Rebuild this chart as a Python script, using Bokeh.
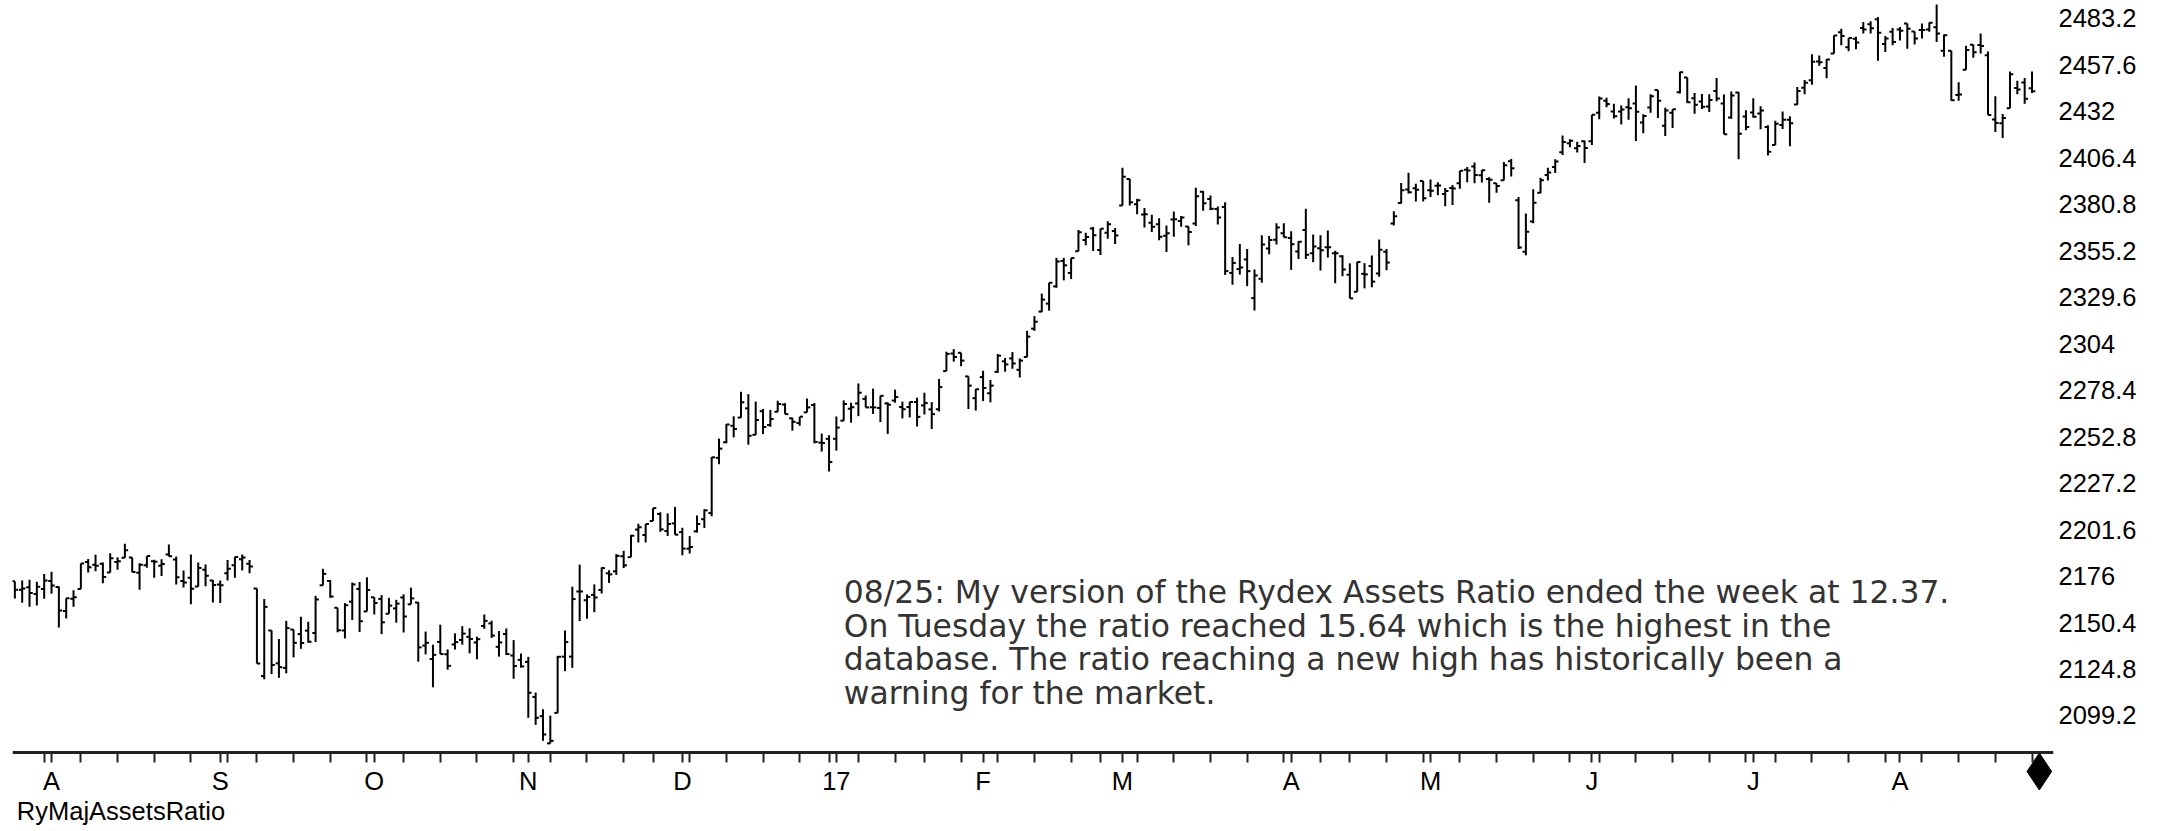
import numpy as np
import pandas as pd
from bokeh.plotting import figure
from bokeh.models import Range1d, FixedTicker, Label, ColumnDataSource
from bokeh.embed import file_html
from bokeh.resources import INLINE

# ---- trading calendar (S&P 500, daily bars) ----
holidays = ["2016-09-05", "2016-11-24", "2016-12-26", "2017-01-02", "2017-01-16",
            "2017-02-20", "2017-04-14", "2017-05-29", "2017-07-04"]
dates = pd.bdate_range("2016-07-25", "2017-08-25")
dates = dates[~dates.isin(pd.to_datetime(holidays))]

month_labels = ["A", "S", "O", "N", "D", "17", "F", "M", "A", "M", "J", "J", "A"]

y_ticks = [2099.2, 2124.8, 2150.4, 2176.0, 2201.6, 2227.2, 2252.8, 2278.4,
           2304.0, 2329.6, 2355.2, 2380.8, 2406.4, 2432.0, 2457.6, 2483.2]
y_tick_labels = ["2099.2", "2124.8", "2150.4", "2176", "2201.6", "2227.2", "2252.8", "2278.4",
                 "2304", "2329.6", "2355.2", "2380.8", "2406.4", "2432", "2457.6", "2483.2"]

opens = [
    2173.1, 2168.5, 2169.8, 2166.1, 2168.8,
    2173.2, 2169.9, 2156.8, 2163.5, 2168.8, 2183.8, 2182.2, 2182.8, 2177.9, 2183.7, 2186.1, 2186.2, 2177.8, 2181.9, 2184.2, 2181.6, 2187.8, 2185.1, 2173.3, 2175.1, 2170.2, 2179.5, 2173.6,
    2171.3, 2177.5, 2181.9, 2185.2, 2182.8, 2169.1, 2120.9, 2146.0, 2127.9, 2125.4, 2146.5, 2144.0, 2145.9, 2144.6, 2170.9, 2173.3, 2158.5, 2146.0, 2161.9, 2168.9, 2156.5,
    2164.3, 2163.4, 2155.2, 2158.2, 2164.2, 2160.4, 2161.4, 2137.7, 2130.3, 2139.7, 2132.9, 2138.3, 2140.8, 2142.5, 2139.4, 2148.5, 2149.9, 2137.0, 2144.1, 2132.2, 2129.8,
    2128.7, 2109.4, 2098.8, 2083.8, 2100.6, 2131.6, 2131.6, 2167.5, 2162.7, 2165.6, 2168.3, 2177.5, 2178.6, 2186.9, 2186.4, 2201.6, 2198.6, 2206.3, 2210.2, 2200.8, 2205.0,
    2200.2, 2191.1, 2200.6, 2207.3, 2210.7, 2241.1, 2249.7, 2258.8, 2263.3, 2268.4, 2253.8, 2266.8, 2259.2, 2266.5, 2270.5, 2262.9, 2260.3, 2266.2, 2270.2, 2249.5, 2251.6,
    2251.6, 2261.6, 2268.2, 2271.1, 2273.6, 2269.0, 2268.6, 2271.1, 2272.7, 2269.1, 2269.1, 2271.9, 2270.0, 2267.8, 2267.9, 2288.9, 2298.6, 2299.0, 2286.0, 2274.0,
    2285.6, 2276.7, 2288.5, 2294.3, 2295.9, 2289.6, 2296.7, 2312.3, 2321.7, 2326.1, 2335.6, 2349.6, 2343.0, 2354.9, 2361.1, 2367.5, 2355.7, 2365.2, 2366.1,
    2380.1, 2394.8, 2380.9, 2375.2, 2370.7, 2369.8, 2363.5, 2372.5, 2371.6, 2368.6, 2370.3, 2387.7, 2383.7, 2378.2, 2379.3, 2343.0, 2345.1, 2350.4, 2329.1, 2339.8, 2356.5, 2361.3, 2364.8,
    2362.3, 2354.8, 2366.6, 2353.8, 2356.6, 2357.2, 2353.9, 2352.2, 2342.0, 2332.6, 2342.5, 2346.8, 2342.7, 2354.7, 2370.3, 2381.5, 2389.0, 2389.7, 2393.7,
    2388.5, 2391.1, 2386.5, 2389.8, 2392.4, 2399.9, 2401.6, 2396.8, 2394.8, 2392.4, 2394.0, 2404.6, 2383.0, 2354.7, 2371.4, 2387.2, 2397.0, 2401.4, 2409.5, 2414.5, 2411.7, 2415.6,
    2415.6, 2431.3, 2437.8, 2431.9, 2432.0, 2434.3, 2436.4, 2425.9, 2434.2, 2443.8, 2424.1, 2431.2, 2442.5, 2450.7, 2439.3, 2437.4, 2434.7, 2443.3, 2436.3, 2428.7, 2442.4, 2429.2,
    2431.4, 2430.8, 2423.4, 2413.5, 2424.5, 2427.4, 2435.8, 2445.0, 2449.2, 2459.5, 2455.9, 2463.9, 2475.6, 2467.4, 2472.0, 2477.9, 2480.0, 2482.8, 2469.1, 2475.9,
    2477.1, 2480.4, 2476.0, 2476.9, 2477.1, 2478.3, 2465.4, 2465.4, 2441.0, 2455.0, 2468.7, 2468.6, 2463.0, 2427.6, 2425.5, 2433.8, 2444.9, 2447.9, 2444.7,
]

highs = [
    2173.1, 2173.5, 2174.0, 2172.9, 2177.1,
    2178.3, 2170.2, 2163.8, 2168.2, 2182.9, 2185.4, 2187.7, 2183.4, 2188.5, 2186.3, 2193.8, 2186.2, 2183.1, 2187.0, 2185.0, 2185.2, 2193.4, 2186.7, 2179.0, 2187.9, 2183.5, 2182.3, 2173.8,
    2173.6, 2184.9, 2186.6, 2187.9, 2184.9, 2169.1, 2163.3, 2146.0, 2141.3, 2151.3, 2146.5, 2153.6, 2150.8, 2165.1, 2180.0, 2173.8, 2158.5, 2161.1, 2172.4, 2172.7, 2175.3,
    2164.4, 2165.5, 2164.0, 2162.9, 2165.9, 2169.6, 2161.6, 2145.4, 2138.2, 2149.2, 2135.6, 2144.4, 2148.4, 2147.2, 2142.6, 2154.8, 2151.4, 2145.7, 2147.1, 2140.7, 2133.3,
    2131.5, 2111.8, 2102.6, 2099.1, 2132.0, 2146.0, 2170.1, 2182.3, 2165.9, 2171.4, 2180.8, 2179.2, 2188.1, 2189.9, 2198.7, 2204.8, 2204.7, 2213.4, 2211.1, 2210.5, 2214.1,
    2202.6, 2198.0, 2209.4, 2212.8, 2241.6, 2251.7, 2259.8, 2264.0, 2277.5, 2276.2, 2272.1, 2268.1, 2267.5, 2272.6, 2271.2, 2263.2, 2263.8, 2273.8, 2271.3, 2254.5, 2253.6,
    2263.9, 2272.8, 2271.5, 2282.1, 2275.5, 2279.3, 2275.3, 2271.8, 2278.7, 2272.1, 2272.0, 2274.3, 2277.0, 2271.8, 2284.6, 2299.6, 2301.0, 2299.0, 2286.0, 2279.1,
    2289.1, 2284.0, 2298.3, 2296.2, 2299.4, 2295.9, 2311.1, 2319.2, 2331.6, 2337.6, 2351.3, 2351.3, 2351.2, 2366.7, 2365.1, 2368.3, 2367.3, 2371.5, 2367.8,
    2401.0, 2394.8, 2383.9, 2378.8, 2375.1, 2373.1, 2369.1, 2376.9, 2374.4, 2368.6, 2390.0, 2388.1, 2385.7, 2379.6, 2381.9, 2351.8, 2358.9, 2356.2, 2344.9, 2363.8, 2363.4, 2370.4, 2370.4,
    2365.9, 2360.5, 2378.4, 2364.2, 2363.8, 2366.4, 2355.2, 2352.7, 2348.3, 2349.1, 2348.4, 2352.6, 2361.4, 2356.2, 2377.0, 2392.5, 2398.2, 2392.1, 2393.7,
    2394.5, 2392.9, 2389.8, 2391.4, 2399.3, 2401.4, 2403.9, 2399.7, 2395.7, 2392.4, 2404.1, 2405.8, 2384.9, 2375.7, 2389.1, 2395.5, 2400.9, 2405.6, 2418.7, 2416.7, 2415.3, 2416.0,
    2430.1, 2440.2, 2439.5, 2436.2, 2435.3, 2439.3, 2446.2, 2430.4, 2441.5, 2443.8, 2434.0, 2433.2, 2453.8, 2450.7, 2442.2, 2441.6, 2441.4, 2450.4, 2441.3, 2443.0, 2442.7, 2432.7,
    2439.2, 2434.9, 2424.3, 2426.9, 2432.0, 2429.3, 2445.4, 2449.3, 2463.5, 2462.8, 2460.9, 2473.8, 2477.6, 2472.5, 2473.1, 2481.2, 2481.7, 2484.0, 2473.5, 2478.0,
    2478.5, 2480.4, 2476.0, 2480.4, 2481.0, 2490.9, 2474.4, 2465.4, 2448.1, 2468.2, 2468.9, 2474.9, 2465.0, 2440.3, 2430.6, 2454.0, 2448.9, 2450.4, 2454.0,
]

lows = [
    2163.6, 2161.3, 2159.1, 2159.7, 2163.5,
    2166.2, 2147.6, 2152.6, 2159.1, 2168.8, 2177.9, 2178.6, 2172.0, 2177.9, 2179.4, 2186.1, 2178.1, 2168.5, 2180.5, 2175.1, 2176.0, 2186.8, 2171.3, 2169.7, 2160.4, 2170.2, 2170.4, 2161.4,
    2161.1, 2173.6, 2175.1, 2179.1, 2177.5, 2127.8, 2119.1, 2122.0, 2119.9, 2122.4, 2131.2, 2135.9, 2139.2, 2139.6, 2170.9, 2164.0, 2145.0, 2141.6, 2151.8, 2145.2, 2156.5,
    2154.8, 2144.0, 2155.2, 2150.3, 2144.9, 2160.4, 2128.8, 2132.8, 2114.7, 2133.0, 2124.4, 2135.5, 2138.2, 2133.4, 2130.1, 2146.9, 2141.9, 2131.6, 2132.5, 2119.4, 2125.5,
    2097.9, 2094.0, 2085.2, 2083.8, 2100.6, 2123.6, 2125.4, 2151.2, 2152.5, 2156.1, 2166.4, 2172.2, 2176.6, 2180.4, 2186.4, 2194.5, 2194.5, 2206.3, 2200.4, 2198.1, 2198.8,
    2187.4, 2188.4, 2200.0, 2202.5, 2208.9, 2237.6, 2249.2, 2252.4, 2263.3, 2248.4, 2253.8, 2254.2, 2258.2, 2266.5, 2265.2, 2256.1, 2258.8, 2266.2, 2249.1, 2244.6, 2233.6,
    2245.1, 2261.6, 2260.5, 2264.1, 2268.9, 2265.3, 2260.8, 2254.3, 2271.5, 2262.8, 2263.4, 2258.4, 2265.0, 2257.0, 2266.7, 2288.9, 2294.1, 2291.6, 2268.0, 2267.2,
    2272.4, 2271.7, 2287.9, 2288.6, 2290.2, 2285.4, 2296.6, 2311.1, 2321.4, 2322.2, 2334.8, 2338.9, 2339.6, 2354.9, 2358.3, 2355.1, 2352.9, 2361.9, 2359.0,
    2380.1, 2380.2, 2375.4, 2368.0, 2365.5, 2361.0, 2354.5, 2363.0, 2368.5, 2358.2, 2368.9, 2377.2, 2377.6, 2369.7, 2341.9, 2336.5, 2342.1, 2335.7, 2322.3, 2337.6, 2353.3, 2358.6, 2362.6,
    2344.7, 2350.7, 2350.7, 2348.9, 2344.3, 2351.5, 2337.3, 2341.2, 2329.0, 2332.5, 2334.5, 2335.1, 2340.9, 2344.5, 2369.2, 2381.2, 2386.8, 2382.4, 2382.4,
    2384.8, 2385.8, 2379.8, 2380.4, 2389.4, 2393.0, 2392.4, 2392.8, 2381.7, 2387.2, 2393.9, 2396.1, 2356.2, 2352.7, 2370.4, 2386.9, 2393.9, 2398.0, 2408.0, 2412.2, 2409.4, 2403.6,
    2413.5, 2427.7, 2434.3, 2428.1, 2424.8, 2427.4, 2415.7, 2420.0, 2431.3, 2428.3, 2418.5, 2422.9, 2441.8, 2436.6, 2430.7, 2433.3, 2431.6, 2437.6, 2419.4, 2428.0, 2405.7, 2421.6,
    2428.7, 2422.1, 2407.7, 2413.5, 2422.3, 2412.8, 2435.6, 2441.4, 2446.7, 2457.2, 2450.3, 2463.9, 2468.4, 2465.1, 2466.3, 2474.9, 2474.9, 2459.9, 2464.7, 2468.5,
    2471.1, 2466.5, 2468.9, 2472.1, 2475.9, 2470.3, 2462.1, 2437.8, 2437.9, 2455.0, 2461.6, 2463.9, 2430.0, 2420.7, 2417.4, 2433.8, 2441.4, 2436.2, 2442.2,
]

closes = [
    2168.5, 2169.2, 2166.6, 2170.1, 2173.6,
    2170.8, 2157.0, 2163.8, 2164.3, 2182.9, 2180.9, 2181.7, 2175.5, 2185.8, 2184.1, 2190.2, 2178.2, 2182.2, 2187.0, 2183.9, 2182.6, 2186.9, 2175.4, 2172.5, 2169.0, 2180.4, 2176.1, 2171.0,
    2170.9, 2180.0, 2186.5, 2186.2, 2181.3, 2127.8, 2159.0, 2127.0, 2125.8, 2147.3, 2139.2, 2139.1, 2139.8, 2163.1, 2177.2, 2164.7, 2146.1, 2159.9, 2171.4, 2151.1, 2168.3,
    2161.2, 2150.5, 2159.7, 2160.8, 2153.7, 2163.7, 2136.7, 2139.2, 2132.6, 2133.0, 2126.5, 2139.6, 2144.3, 2141.3, 2141.2, 2151.3, 2143.2, 2139.4, 2133.0, 2126.4, 2126.2,
    2111.7, 2097.9, 2088.7, 2085.2, 2131.5, 2139.6, 2163.3, 2167.5, 2164.5, 2164.2, 2180.4, 2176.9, 2187.1, 2181.9, 2198.2, 2202.9, 2204.7, 2213.4, 2201.7, 2204.7, 2198.8,
    2191.1, 2192.0, 2204.7, 2212.2, 2241.4, 2246.2, 2259.5, 2257.0, 2271.7, 2253.3, 2262.0, 2258.1, 2262.5, 2270.8, 2265.2, 2261.0, 2263.8, 2268.9, 2249.9, 2249.3, 2238.8,
    2257.8, 2270.8, 2269.0, 2277.0, 2268.9, 2268.9, 2275.3, 2270.4, 2274.6, 2267.9, 2271.9, 2263.7, 2271.3, 2265.2, 2280.1, 2298.4, 2296.7, 2294.7, 2280.9, 2278.9,
    2279.6, 2280.9, 2297.4, 2292.6, 2293.1, 2294.7, 2307.9, 2316.1, 2328.3, 2337.6, 2349.3, 2347.2, 2351.2, 2365.4, 2362.8, 2363.8, 2367.3, 2369.8, 2363.6,
    2396.0, 2381.9, 2383.1, 2375.3, 2368.4, 2363.0, 2364.9, 2372.6, 2373.5, 2365.5, 2385.3, 2381.4, 2378.3, 2373.5, 2344.0, 2348.5, 2346.0, 2344.0, 2341.6, 2358.6, 2361.1, 2368.1, 2362.7,
    2358.8, 2360.2, 2353.0, 2357.5, 2355.5, 2357.2, 2353.8, 2344.9, 2329.0, 2349.0, 2342.2, 2338.2, 2355.8, 2348.7, 2374.2, 2388.6, 2387.5, 2388.8, 2384.2,
    2388.3, 2391.2, 2388.1, 2389.5, 2399.3, 2399.4, 2396.9, 2399.6, 2394.4, 2390.9, 2402.3, 2400.7, 2357.0, 2365.7, 2381.7, 2394.0, 2398.4, 2404.4, 2415.1, 2415.8, 2412.9, 2411.8,
    2430.1, 2439.1, 2436.1, 2429.3, 2433.1, 2433.8, 2431.8, 2429.4, 2440.4, 2437.9, 2432.5, 2433.2, 2453.5, 2437.0, 2435.6, 2434.5, 2438.3, 2439.1, 2419.4, 2440.7, 2419.7, 2423.4,
    2429.0, 2432.5, 2409.8, 2425.2, 2427.4, 2425.5, 2443.3, 2447.8, 2459.3, 2459.1, 2460.6, 2473.8, 2473.5, 2472.5, 2469.9, 2477.1, 2477.8, 2475.4, 2472.1, 2470.3,
    2476.4, 2477.6, 2472.2, 2476.8, 2480.9, 2474.9, 2474.0, 2438.2, 2441.3, 2465.8, 2464.6, 2468.1, 2430.0, 2425.6, 2428.4, 2452.5, 2444.0, 2439.0, 2443.1,
]

note_text = ("08/25: My version of the Rydex Assets Ratio ended the week at 12.37.\n"
             "On Tuesday the ratio reached 15.64 which is the highest in the\n"
             "database. The ratio reaching a new high has historically been a\n"
             "warning for the market.")
series_name = "RyMajAssetsRatio"

n = len(dates)
assert n == len(opens) == len(highs) == len(lows) == len(closes) == 276
x = np.arange(n)

# month starts (first trading day) and week ends (last trading day of each week)
mkey = dates.to_period("M")
month_idx = [i for i in range(1, n) if mkey[i] != mkey[i - 1]]
wkey = dates.to_period("W")
week_idx = [i for i in range(n - 1) if wkey[i] != wkey[i + 1]] + [n - 1]

src = ColumnDataSource(dict(x=x, xl=x - 0.45, xr=x + 0.45,
                            o=opens, h=highs, l=lows, c=closes))

TICK_FONT = "Liberation Sans"
AXIS_LEVEL = 2078.8      # price level where the time axis is drawn

p = figure(width=2156, height=830, output_backend="svg", toolbar_location=None,
           x_range=Range1d(-0.32, 277.93), y_range=Range1d(2035.8, 2493.1),
           y_axis_location="right", min_border_left=12, min_border_right=103,
           min_border_top=0, min_border_bottom=0)
p.outline_line_color = None
p.grid.visible = False
p.background_fill_color = "white"
p.border_fill_color = "white"

p.segment(x0="x", y0="l", x1="x", y1="h", source=src, line_color="black", line_width=2)
p.segment(x0="xl", y0="o", x1="x", y1="o", source=src, line_color="black", line_width=2)
p.segment(x0="x", y0="c", x1="xr", y1="c", source=src, line_color="black", line_width=2)

# y axis (right)
ya = p.yaxis[0]
ya.ticker = FixedTicker(ticks=y_ticks)
ya.major_label_overrides = {t: s for t, s in zip(y_ticks, y_tick_labels)}
ya.axis_line_color = None
ya.major_tick_line_color = None
ya.minor_tick_line_color = None
ya.major_tick_out = 0
ya.major_tick_in = 0
ya.major_label_standoff = 5
ya.major_label_text_font = TICK_FONT
ya.major_label_text_font_size = "25.5px"
ya.major_label_text_color = "black"

# x axis (time), drawn at a fixed price level inside the plot area
xa = p.xaxis[0]
xa.fixed_location = AXIS_LEVEL
xa.ticker = FixedTicker(ticks=month_idx, minor_ticks=week_idx)
xa.major_label_overrides = {int(i): s for i, s in zip(month_idx, month_labels)}
xa.axis_line_color = "#222222"
xa.axis_line_width = 3
xa.major_tick_line_color = "#222222"
xa.major_tick_line_width = 2
xa.major_tick_out = 10
xa.major_tick_in = 0
xa.minor_tick_line_color = "#222222"
xa.minor_tick_line_width = 2
xa.minor_tick_out = 10
xa.minor_tick_in = 0
xa.major_label_standoff = 5
xa.major_label_text_font = TICK_FONT
xa.major_label_text_font_size = "25.5px"
xa.major_label_text_color = "black"

# end-of-data marker on the time axis
p.scatter(x=[n], y=[2068.3], marker="diamond", size=37, color="black")

# series name below the axis
p.add_layout(Label(x=0, y=2054.2, x_offset=2, text=series_name, text_align="left",
                   text_baseline="top", text_font=TICK_FONT, text_font_size="25.5px",
                   text_color="black"))

# commentary
p.add_layout(Label(x=113, y=2176.9, text=note_text, text_align="left", text_baseline="top",
                   text_font="DejaVu Sans", text_font_size="31.4px", text_color="#333333",
                   text_line_height=0.93))

open("out.html", "w").write(file_html(p, INLINE))
